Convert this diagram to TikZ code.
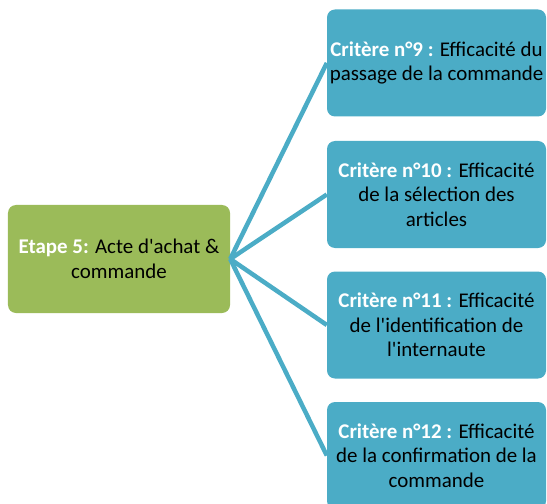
\documentclass[tikz,border=0pt]{standalone}
\usepackage{fontspec}
\setmainfont{Carlito}[Ligatures=TeXOff]
\usepackage{xcolor}
\definecolor{etapegreen}{HTML}{9BBB59}
\definecolor{critereteal}{HTML}{4BACC6}
\usetikzlibrary{positioning}
\tikzset{
	etape/.style={
			fill=etapegreen, rounded corners=8bp, inner sep=0pt,
			minimum width=222bp, minimum height=108bp, align=center
		},
	critere/.style={
			fill=critereteal, rounded corners=8bp, inner sep=0pt,
			minimum width=219bp, minimum height=107bp, align=center
		},
	branche/.style={draw=critereteal, line width=4.5bp}
}
\newcommand{\titre}[1]{\textcolor{white}{\textbf{#1}}}

\begin{document}
\begin{tikzpicture}[x=1bp, y=-1bp, font=\fontsize{21}{24.5}\selectfont]

			\useasboundingbox (0,0) rectangle (547,504);

			% Draw the step box
			\node[etape] (etape) at (119,259) {\titre{Etape 5:} Acte d'achat \&\\commande};

			% Draw the criteria boxes
			\node[critere] (c9) at (436.5,63) {\titre{Critère n°9 :} Efficacité du\\passage de la commande};
			\node[critere] (c10) at (436.5,194.5) {\titre{Critère n°10 :} Efficacité\\de la sélection des\\articles};
			\node[critere] (c11) at (436.5,325) {\titre{Critère n°11 :} Efficacité\\de l'identification de\\l'internaute};
			\node[critere] (c12) at (436.5,455.5) {\titre{Critère n°12 :} Efficacité\\de la confirmation de la\\commande};

			% Draw the branches
			\foreach \c in {c9,c10,c11,c12}
				\draw[branche] (etape.east) -- (\c.west);
		\end{tikzpicture}
\end{document}
